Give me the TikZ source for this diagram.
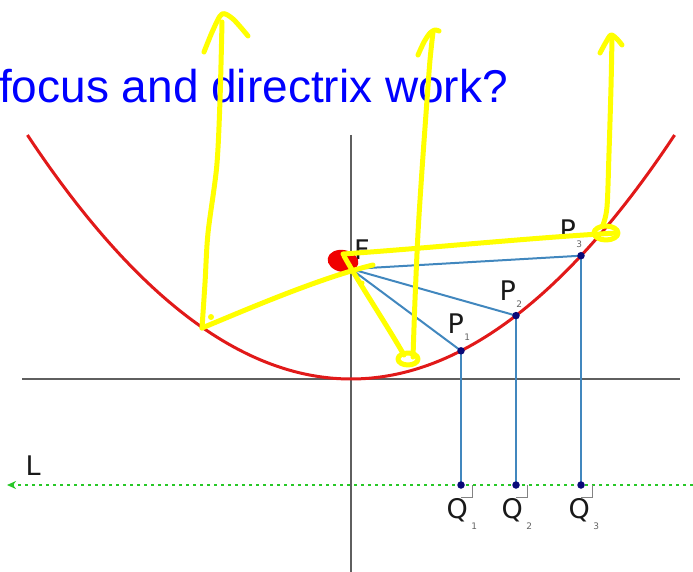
\documentclass[tikz,border=0pt]{standalone}
\usepackage{fontspec}
\setmainfont{DejaVu Sans}
\newfontfamily\titlefont{Liberation Sans}
\usetikzlibrary{arrows.meta}
\definecolor{parred}{RGB}{225,25,25}
\definecolor{axgray}{RGB}{95,95,95}
\definecolor{segblue}{RGB}{65,135,190}
\definecolor{dotnavy}{RGB}{10,10,120}
\definecolor{dirgreen}{RGB}{40,200,40}
\definecolor{hlyellow}{RGB}{255,255,0}
\definecolor{blobred}{RGB}{240,0,0}
\definecolor{labblack}{RGB}{25,25,25}
\definecolor{subgray}{RGB}{100,100,100}
\begin{document}
\begin{tikzpicture}[x=1pt,y=-1pt,
  axis/.style={draw=axgray,line width=1.5pt},
  seg/.style={draw=segblue,line width=2pt},
  ptdot/.style={circle,fill=dotnavy,inner sep=0pt,minimum size=7.5pt},
  lab/.style={anchor=base west,inner sep=0pt,text=labblack,font=\fontsize{27}{30}\selectfont},
  sublab/.style={anchor=base west,inner sep=0pt,text=subgray,font=\fontsize{9}{10}\selectfont},
  rmark/.style={draw=subgray!80,line width=1pt},
  hl/.style={draw=hlyellow,line width=5pt,line cap=round,line join=round}]
\useasboundingbox (0,0) rectangle (693,572);
\clip (0,0) rectangle (693,572);
% title
\node[anchor=base west,inner sep=0pt,text=blue,font=\titlefont\fontsize{46}{50}\selectfont] (title) at (-1,103) {focus and directrix work?};
% axes
\coordinate (xl) at (22,379); \coordinate (xr) at (680,379);
\coordinate (yt) at (351,135); \coordinate (yb) at (351,572);
\draw[axis] (xl) -- (xr);
\draw[axis] (yt) -- (yb);
% parabola
\draw[parred,line width=3pt] plot[domain=27.4:674.6,samples=120] (\x,{379-23.3*((\x-351)/100)^2});
% directrix
\coordinate (Lr) at (693,485); \coordinate (Ll) at (7,485);
\draw[dirgreen,line width=2.5pt,dash pattern=on 3pt off 4pt,-{Stealth[length=9pt,width=8pt]}] (Lr) -- (Ll);
% points
\coordinate (F) at (351,269);
\coordinate (P1) at (461,350.8);
\coordinate (P2) at (516,315.6);
\coordinate (P3) at (581,255.7);
\coordinate (Q1) at (461,485);
\coordinate (Q2) at (516,485);
\coordinate (Q3) at (581,485);
\foreach \i in {1,2,3}{
  \draw[seg] (F) -- (P\i);
  \draw[seg] (P\i) -- (Q\i);
  \draw[rmark] ([yshift=-12pt]Q\i) -- ([xshift=11pt,yshift=-12pt]Q\i) -- ([xshift=11pt]Q\i);
}
\foreach \i in {1,2,3}{
  \node[ptdot] (dP\i) at (P\i) {};
  \node[ptdot] (dQ\i) at (Q\i) {};
}
% labels
\node[lab] (Fl) at (354,259) {F};
\node[lab] (P1l) at (447.4,333) {P};
\node[lab] (P2l) at (499.4,300) {P};
\node[lab] (P3l) at (559.4,240) {P};
\node[sublab] (P1s) at ([xshift=0pt,yshift=-7pt]P1l.base east) {1};
\node[sublab] (P2s) at ([xshift=0pt,yshift=-7pt]P2l.base east) {2};
\node[sublab] (P3s) at ([xshift=0pt,yshift=-7pt]P3l.base east) {3};
\node[lab] (Q1l) at (446.5,518) {Q};
\node[lab] (Q2l) at (501.5,518) {Q};
\node[lab] (Q3l) at (568.5,518) {Q};
\node[sublab] (Q1s) at ([xshift=3pt,yshift=-11pt]Q1l.base east) {1};
\node[sublab] (Q2s) at ([xshift=3pt,yshift=-11pt]Q2l.base east) {2};
\node[sublab] (Q3s) at ([xshift=3pt,yshift=-11pt]Q3l.base east) {3};
\node[lab] (Ll2) at (25.4,475) {L};
% red blob at focus
\fill[blobred,rotate around={-10:(343,261)}] (343,261) ellipse [x radius=15.5, y radius=11];
% yellow hand strokes
\coordinate (yA1) at (202,328);
\coordinate (yA2) at (373,265);
\draw[hl] plot[smooth] coordinates {(204,52) (213,30) (222,14) (233,19) (248,36)};
\draw[hl] plot[smooth] coordinates {(222,22) (220,100) (216.7,166.7) (208,233) (205,283) (202,328)};
\draw[hl] (yA1) .. controls (250,308) and (320,278) .. (yA2);
\fill[hlyellow] (211,317) circle (3);
\fill[hlyellow] (362,283) circle (2.5);
% middle
\coordinate (yB1) at (344,256);
\coordinate (yB2) at (404,355);
\draw[hl] plot[smooth] coordinates {(418,55) (424,42) (430,33) (435,30) (439,31)};
\draw[hl] plot[smooth] coordinates {(433,32) (430,60) (427,100) (422,170) (418,233) (415,300) (413,357)};
\draw[hl] (yB1) .. controls (362,288) and (385,322) .. (yB2);
\draw[hl] (408,359) ellipse [x radius=10, y radius=6];
% right
\coordinate (yC1) at (343,254);
\coordinate (yC2) at (617,233);
\draw[hl] plot[smooth] coordinates {(600,53) (606,42) (611,35) (617,39) (622,45)};
\draw[hl] plot[smooth] coordinates {(612,37) (611,87) (609,153) (607,207) (603,225)};
\draw[hl] (606,233) ellipse [x radius=12, y radius=7];
\draw[hl] (yC1) .. controls (430,248) and (540,237) .. (yC2);
\end{tikzpicture}
\end{document}
